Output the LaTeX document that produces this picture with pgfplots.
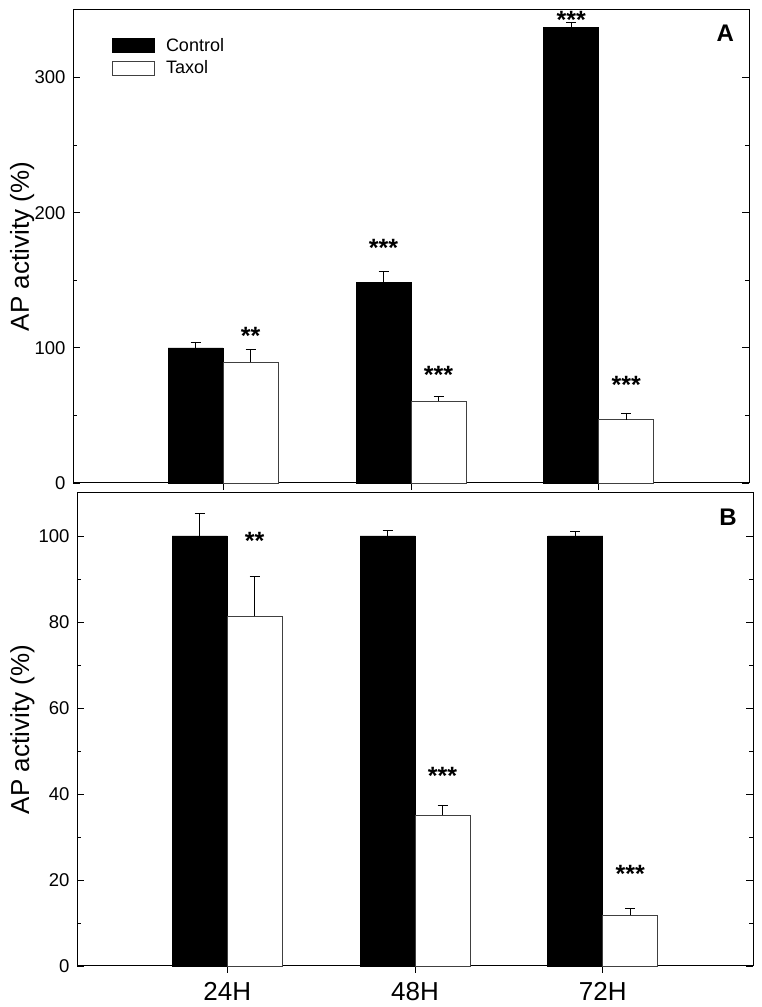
\documentclass[border=0pt]{standalone}
\usepackage{pgfplots}
\pgfplotsset{compat=1.18}
\usepackage{fontspec}
\setmainfont{Liberation Sans}
\begin{document}
\begin{tikzpicture}
\pgfplotsset{
  panel/.style={
    scale only axis, width=676pt, height=473pt,
    ybar, bar width=55pt, ybar=0pt,
    xmin=0.2, xmax=3.8, ymin=0,
    xtick={1,2,3}, xtick pos=bottom, xtick align=outside,
    ytick align=inside, ytick pos=both,
    major tick length=7pt, minor tick length=4pt,
    minor y tick num=1,
    axis line style={line width=1pt, black},
    every tick/.style={black, line width=0.8pt},
    clip=false,
    /pgf/number format/assume math mode=true,
    yticklabel style={font=\fontsize{18.5}{21}\selectfont, xshift=-4pt},
    xticklabel style={font=\fontsize{26}{30}\selectfont, yshift=-6pt},
    ylabel={AP activity (\%)},
    error bars/y dir=plus, error bars/y explicit,
    error bars/error bar style={line width=0.8pt, black},
    error bars/error mark options={line width=0.8pt, black, mark size=5pt, rotate=90},
  },
}
\tikzset{
  ctrl/.style={fill=black, draw=black, line width=0.6pt},
  tax/.style={fill=white, draw=black!75, line width=0.8pt},
  star/.style={font=\bfseries\fontsize{25}{28}\selectfont, anchor=base, yshift=-14.5pt},
  letter/.style={font=\bfseries\fontsize{24}{28}\selectfont, anchor=center},
}
% top panel
\begin{axis}[panel, at={(73pt,524pt)}, anchor=south west,
  ymax=350, ytick={0,100,200,300}, xticklabels={,,},
  ylabel style={font=\fontsize{26}{30}\selectfont, at={(axis description cs:-0.0754,0.5)}, anchor=center},
  legend style={at={(axis description cs:0.0577,0.9408)}, anchor=north west, draw=none, fill=none,
    inner sep=0pt, row sep=8pt, nodes={inner sep=0pt}, font=\fontsize{18}{21}\selectfont,
    /tikz/every odd column/.style={column sep=11pt}},
  legend cell align=left,
  legend image code/.code={\draw[#1] (0pt,-7pt) rectangle (42pt,7pt);},
]
\addplot[ctrl] table[x=x,y=y,y error=e] {
x y e
1 100 4.4
2 148.7 7.8
3 337 3.5
};
\addplot[tax] table[x=x,y=y,y error=e] {
x y e
1 89.4 9.6
2 60.5 3.7
3 46.7 5.1
};
\legend{Control,Taxol}
\node[star, xshift=27.5pt] at (axis cs:1,113) {**};
\node[star, xshift=-27.5pt] at (axis cs:2,178) {***};
\node[star, xshift=27.5pt] at (axis cs:2,84.4) {***};
\node[star, xshift=-27.5pt] at (axis cs:3,346.7) {***};
\node[star, xshift=27.5pt] at (axis cs:3,77) {***};
\node[letter] at (axis description cs:0.965,0.951) {A};
\end{axis}
% bottom panel
\begin{axis}[panel, at={(77pt,41pt)}, anchor=south west,
  ymax=110, ytick={0,20,40,60,80,100}, xticklabels={24H,48H,72H},
  ylabel style={font=\fontsize{26}{30}\selectfont, at={(axis description cs:-0.0806,0.5)}, anchor=center},
]
\addplot[ctrl] table[x=x,y=y,y error=e] {
x y e
1 100 5.3
2 100 1.2
3 100 1.0
};
\addplot[tax] table[x=x,y=y,y error=e] {
x y e
1 81.3 9.2
2 35.0 2.4
3 11.8 1.5
};
\node[star, xshift=27.5pt] at (axis cs:1,100.2) {**};
\node[star, xshift=27.5pt] at (axis cs:2,45.6) {***};
\node[star, xshift=27.5pt] at (axis cs:3,22.8) {***};
\node[letter] at (axis description cs:0.963,0.949) {B};
\end{axis}
\pgfresetboundingbox
\path[use as bounding box] (0pt,0pt) rectangle (761pt,1007pt);
\end{tikzpicture}
\end{document}
